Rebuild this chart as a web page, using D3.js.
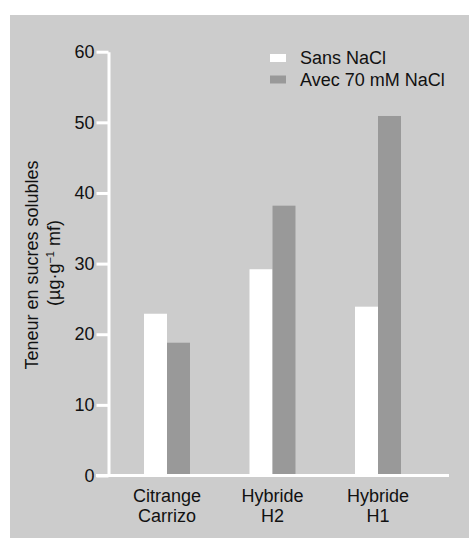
<!DOCTYPE html>
<html>
<head>
<meta charset="utf-8">
<script src="https://cdn.jsdelivr.net/npm/d3@7"></script>
<style>
  body { margin: 0; background: #fff; }
  svg { display: block; font-family: "Liberation Sans", Arial, sans-serif; }
  text { fill: #111; }
</style>
</head>
<body>
<svg width="469" height="539"></svg>
<script>
// data
const categories = [["Citrange", "Carrizo"], ["Hybride", "H2"], ["Hybride", "H1"]];
const series = ["Sans NaCl", "Avec 70 mM NaCl"];
const sansNaCl = [22.9, 29.2, 23.9];
const avecNaCl = [18.8, 38.2, 50.9];
const yTicks = [0, 10, 20, 30, 40, 50, 60];

const colors = ["#ffffff", "#999999"];
const fontSize = 18;

const names = categories.map(c => c.join(" "));
const data = names.map((name, i) => ({
  name: name,
  values: [sansNaCl[i], avecNaCl[i]],
}));

const svg = d3.select('svg');

// grey panel
svg.append('rect')
    .attr('x', 10)
    .attr('y', 15)
    .attr('width', 459)
    .attr('height', 523)
    .attr('fill', '#cccccc');

const yScale = d3.scaleLinear().domain([0, 60]).range([475.5, 51.7]);
const xScale = d3.scaleBand().domain(names).range([114.25, 430.75])
    .paddingInner(0.564).paddingOuter(0.282);
const xSub = d3.scaleBand().domain(series).range([0, xScale.bandwidth()]);

// bars
const groups = svg.selectAll('.group')
    .data(data)
    .enter()
    .append('g')
    .attr('transform', d => `translate(${xScale(d.name)},0)`);

groups.selectAll('rect')
    .data(d => d.values.map((v, i) => ({ key: series[i], value: v, i: i })))
    .enter()
    .append('rect')
    .attr('x', d => xSub(d.key))
    .attr('width', xSub.bandwidth())
    .attr('y', d => yScale(d.value))
    .attr('height', d => yScale(0) - yScale(d.value))
    .attr('fill', d => colors[d.i]);

// y axis
const axisX = 108.5;
const yAxis = svg.append('g')
    .attr('transform', `translate(${axisX},0)`)
    .call(d3.axisLeft(yScale)
        .tickValues(yTicks)
        .tickSizeInner(12)
        .tickSizeOuter(0)
        .tickPadding(2));

yAxis.select('.domain').attr('stroke', '#fff').attr('stroke-width', 3);
yAxis.selectAll('.tick line').attr('stroke', '#fff').attr('stroke-width', 3);
yAxis.selectAll('.tick text')
    .attr('font-size', fontSize)
    .attr('font-family', null)
    .attr('fill', '#111');

// baseline
svg.append('line')
    .attr('x1', 96)
    .attr('x2', 449)
    .attr('y1', yScale(0))
    .attr('y2', yScale(0))
    .attr('stroke', '#fff')
    .attr('stroke-width', 3);

// x axis labels
const xAxis = svg.append('g')
    .attr('transform', `translate(0,${yScale(0)})`)
    .call(d3.axisBottom(xScale).tickSize(0).tickFormat(''));
xAxis.select('.domain').remove();

xAxis.selectAll('.tick')
    .append('text')
    .attr('text-anchor', 'middle')
    .attr('font-size', fontSize)
    .attr('fill', '#111')
    .selectAll('tspan')
    .data((d, i) => categories[i])
    .enter()
    .append('tspan')
    .attr('x', 0)
    .attr('y', (d, i) => 26 + i * 20)
    .text(d => d);

// y axis title
const title = svg.append('text')
    .attr('transform', 'rotate(-90)')
    .attr('text-anchor', 'middle')
    .attr('font-size', fontSize);

title.append('tspan')
    .attr('x', -265)
    .attr('y', 38)
    .text('Teneur en sucres solubles');

const t2 = svg.append('text')
    .attr('transform', 'rotate(-90)')
    .attr('text-anchor', 'middle')
    .attr('x', -263)
    .attr('y', 60)
    .attr('font-size', fontSize);
t2.append('tspan').text('(µg·g');
t2.append('tspan').attr('font-size', 11).attr('dy', -6).text('−1');
t2.append('tspan').attr('dy', 6).text(' mf)');

// legend
const legend = svg.append('g')
    .selectAll('g')
    .data(series)
    .enter()
    .append('g')
    .attr('transform', (d, i) => `translate(270,${54 + i * 21.5})`);

legend.append('rect')
    .attr('width', 16)
    .attr('height', 8)
    .attr('fill', (d, i) => colors[i]);

legend.append('text')
    .attr('x', 30)
    .attr('y', 10)
    .attr('font-size', fontSize)
    .text(d => d);
</script>
</body>
</html>
